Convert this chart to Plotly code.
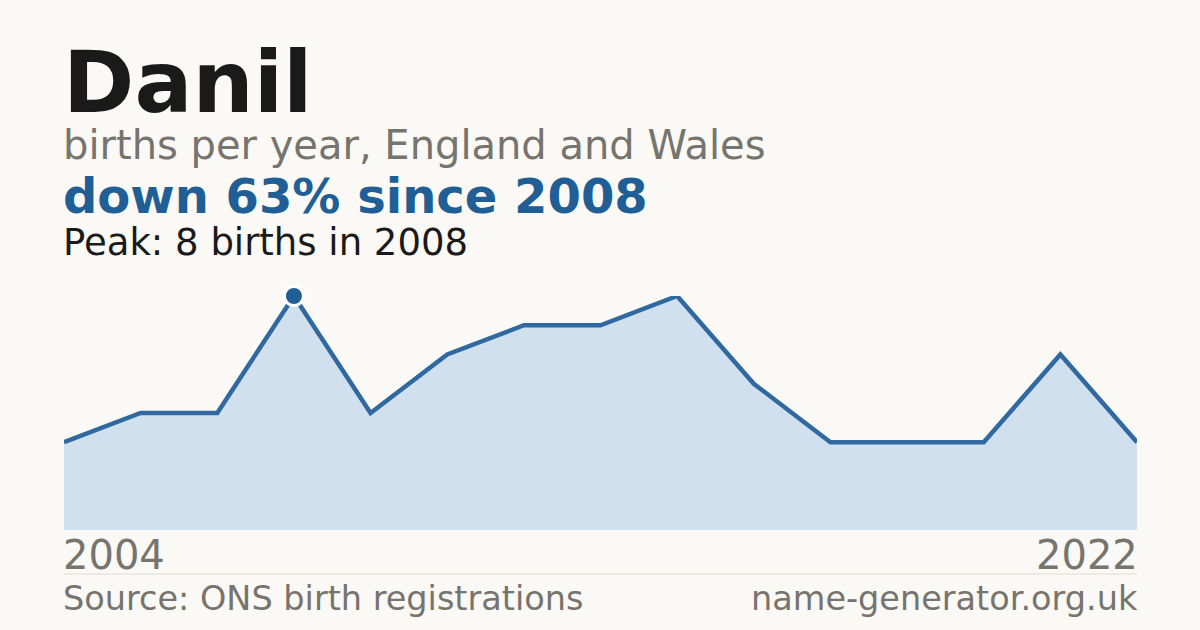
import math
import plotly.graph_objects as go

# Data
name = "Danil"
years = [2004, 2006, 2007, 2008, 2009, 2010, 2012, 2013, 2014, 2015, 2017, 2018, 2019, 2021, 2022]
births = [3, 4, 4, 8, 4, 6, 7, 7, 8, 5, 3, 3, 3, 6, 3]

BG = "#faf9f5"
BLUE = "#1f5f96"
GREY = "#77736d"
INK = "#1a1a1a"
FONT = "DejaVu Sans"

peak = max(births)
peak_i = births.index(peak)
peak_year = years[peak_i]
change = (births[-1] - peak) / peak * 100
pct = math.floor(abs(change) + 0.5)

idx = list(range(len(years)))

fig = go.Figure()
fig.add_trace(go.Scatter(
    x=idx, y=births, mode="lines",
    line=dict(color="#3069a0", width=4.5),
    fill="tozeroy", fillcolor="#d0e0ef",
    hoverinfo="skip", cliponaxis=False,
))
fig.add_trace(go.Scatter(
    x=[peak_i], y=[peak], mode="markers",
    marker=dict(color=BLUE, size=19, line=dict(color="white", width=3)),
    hoverinfo="skip", cliponaxis=False,
))

# plot area: x 64..1137, y 296..530 px
H = 234


def py(pix):
    return (530 - pix) / H


def note(text, x, ypix, size, color, bold=False, anchor="left"):
    fig.add_annotation(
        text=f"<b>{text}</b>" if bold else text,
        x=x, y=py(ypix), xref="paper", yref="paper",
        xanchor=anchor, yanchor="middle", showarrow=False,
        xshift=-3 if anchor == "left" else 3,
        font=dict(family=FONT, size=size, color=color),
    )


note(name, 0, 82, 86, INK, bold=True)
note("births per year, England and Wales", 0, 145, 40, GREY)
direction = "down" if change < 0 else "up"
note(f"{direction} {pct}% since {peak_year}", 0, 196, 48, BLUE, bold=True)
note(f"Peak: {peak} births in {peak_year}", 0, 242, 37, INK)
note(str(years[0]), 0, 555, 40, GREY)
note(str(years[-1]), 1, 555, 40, GREY, anchor="right")
note("Source: ONS birth registrations", 0, 598, 33.5, GREY)
note("name-generator.org.uk", 1, 598, 33.5, GREY, anchor="right")

fig.add_shape(type="line", xref="paper", yref="paper",
              x0=0, x1=1, y0=py(574), y1=py(574),
              line=dict(color="#dddbd5", width=1))

fig.update_xaxes(visible=False, range=[0, len(years) - 1])
fig.update_yaxes(visible=False, range=[0, peak])
fig.update_layout(
    width=1200, height=630,
    margin=dict(l=64, r=63, t=296, b=100),
    paper_bgcolor=BG, plot_bgcolor=BG,
    showlegend=False,
)

fig.write_html("out.html", config={"displayModeBar": False},
               post_script="document.body.style.margin='0';")
